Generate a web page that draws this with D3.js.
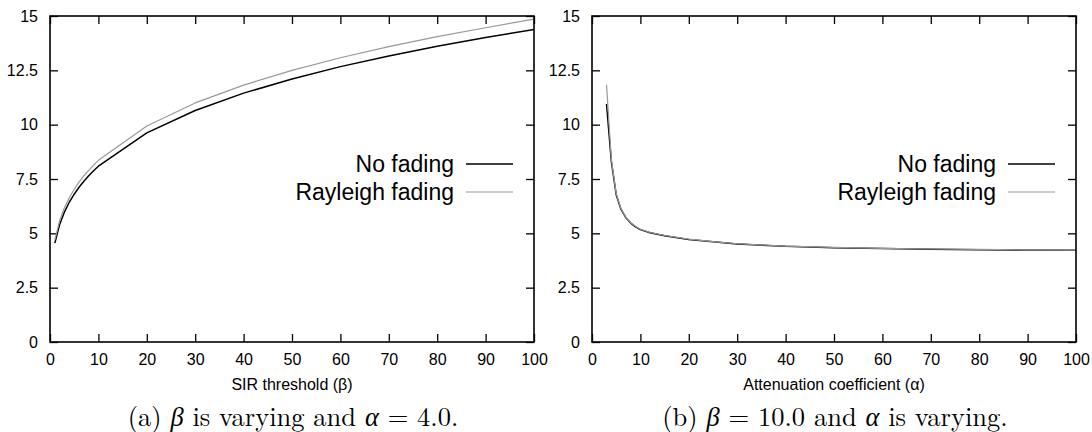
<!DOCTYPE html>
<html>
<head>
<meta charset="utf-8">
<script src="https://cdn.jsdelivr.net/npm/d3@7/dist/d3.min.js"></script>
<style>
  html, body { margin: 0; padding: 0; background: #fff; }
  svg { display: block; }
  .tick text { font-family: "Liberation Sans", Arial, Helvetica, sans-serif; font-size: 16px; fill: #000; }
  .axis-title { font-family: "Liberation Sans", Arial, Helvetica, sans-serif; font-size: 16px; fill: #000; }
  .legend text { font-family: "Liberation Sans", Arial, Helvetica, sans-serif; font-size: 23px; fill: #000; }
  .caption { font-family: "Latin Modern Roman", "CMU Serif", "Liberation Serif", "Times New Roman", serif; font-size: 26.5px; fill: #000; }
</style>
</head>
<body>
<svg id="chart" width="1092" height="432"></svg>
<script>
// Panel (a): SIR threshold beta varies, alpha = 4.0
const betaValues     = [1, 2, 3, 4, 5, 6, 7, 8, 9, 10, 20, 30, 40, 50, 60, 70, 80, 90, 100];
const noFadingBeta   = [4.55, 5.41, 5.99, 6.44, 6.80, 7.12, 7.40, 7.65, 7.88, 8.09, 9.62, 10.65, 11.45, 12.10, 12.67, 13.16, 13.61, 14.01, 14.38];
const rayleighBeta   = [4.70, 5.59, 6.19, 6.65, 7.03, 7.36, 7.65, 7.90, 8.14, 8.36, 9.94, 11.00, 11.82, 12.50, 13.08, 13.59, 14.05, 14.46, 14.86];

// Panel (b): beta = 10.0, attenuation coefficient alpha varies
const alphaValues    = [3, 4, 5, 6, 7, 8, 9, 10, 12, 15, 20, 25, 30, 40, 50, 60, 70, 80, 90, 100];
const noFadingAlpha  = [10.95, 8.30, 6.78, 6.10, 5.72, 5.47, 5.30, 5.17, 5.03, 4.89, 4.72, 4.61, 4.51, 4.40, 4.34, 4.30, 4.27, 4.25, 4.23, 4.22];
const rayleighAlpha  = [11.83, 8.40, 6.83, 6.13, 5.74, 5.49, 5.32, 5.19, 5.04, 4.90, 4.73, 4.62, 4.52, 4.41, 4.35, 4.31, 4.28, 4.26, 4.24, 4.23];

const xTicks = [0, 10, 20, 30, 40, 50, 60, 70, 80, 90, 100];
const yTicks = [0, 2.5, 5, 7.5, 10, 12.5, 15];
const seriesNames = ["No fading", "Rayleigh fading"];
const seriesColors = ["#000000", "#999999"];
const seriesWidths = [1.5, 1.2];

const svg = d3.select("#chart");

function drawPanel(opts) {
  const { left, right, top, bottom, xs, ys, xTitle, caption } = opts;
  const g = svg.append("g");
  const x = d3.scaleLinear().domain([0, 100]).range([left, right]);
  const y = d3.scaleLinear().domain([0, 15]).range([bottom, top]);
  const tick = 8;

  // bottom axis with labels, inward ticks
  g.append("g")
    .attr("transform", `translate(0,${bottom})`)
    .call(d3.axisBottom(x).tickValues(xTicks).tickSizeInner(-tick).tickSizeOuter(0).tickPadding(12).tickFormat(d3.format("d")))
    .call(a => a.select(".domain").remove())
    .call(a => a.selectAll("line").attr("stroke", "#000").attr("stroke-width", 1.3));
  // top mirror ticks
  g.append("g")
    .attr("transform", `translate(0,${top})`)
    .call(d3.axisTop(x).tickValues(xTicks).tickSizeInner(-tick).tickSizeOuter(0).tickFormat(""))
    .call(a => a.select(".domain").remove())
    .call(a => a.selectAll("line").attr("stroke", "#000").attr("stroke-width", 1.3));
  // left axis with labels
  g.append("g")
    .attr("transform", `translate(${left},0)`)
    .call(d3.axisLeft(y).tickValues(yTicks).tickSizeInner(-tick).tickSizeOuter(0).tickPadding(12).tickFormat(d => String(d)))
    .call(a => a.select(".domain").remove())
    .call(a => a.selectAll("line").attr("stroke", "#000").attr("stroke-width", 1.3));
  // right mirror ticks
  g.append("g")
    .attr("transform", `translate(${right},0)`)
    .call(d3.axisRight(y).tickValues(yTicks).tickSizeInner(-tick).tickSizeOuter(0).tickFormat(""))
    .call(a => a.select(".domain").remove())
    .call(a => a.selectAll("line").attr("stroke", "#000").attr("stroke-width", 1.3));

  // data lines
  const line = d3.line().x(d => x(d[0])).y(d => y(d[1]));
  ys.forEach((vals, i) => {
    g.append("path")
      .datum(xs.map((v, j) => [v, vals[j]]))
      .attr("fill", "none")
      .attr("stroke", seriesColors[i])
      .attr("stroke-width", seriesWidths[i])
      .attr("stroke-linejoin", "round")
      .attr("d", line);
  });

  // frame
  g.append("rect")
    .attr("x", left).attr("y", top)
    .attr("width", right - left).attr("height", bottom - top)
    .attr("fill", "none").attr("stroke", "#000").attr("stroke-width", 1.6);

  // legend
  const lg = g.append("g").attr("class", "legend");
  seriesNames.forEach((name, i) => {
    const ly = 164 + i * 28;
    lg.append("text")
      .attr("x", right - 80).attr("y", ly)
      .attr("dy", "0.35em")
      .attr("text-anchor", "end")
      .text(name);
    lg.append("line")
      .attr("x1", right - 68).attr("x2", right - 21)
      .attr("y1", ly).attr("y2", ly)
      .attr("stroke", seriesColors[i]).attr("stroke-width", seriesWidths[i]);
  });

  // x axis title
  g.append("text")
    .attr("class", "axis-title")
    .attr("x", (left + right) / 2).attr("y", 390)
    .attr("text-anchor", "middle")
    .text(xTitle);

  // caption
  const cap = g.append("text")
    .attr("class", "caption")
    .attr("x", (left + right) / 2 + 1).attr("y", 425.5)
    .attr("text-anchor", "middle");
  caption.forEach(part => {
    cap.append("tspan")
      .attr("font-style", part.italic ? "italic" : "normal")
      .text(part.t);
  });
}

drawPanel({
  left: 50, right: 534, top: 16, bottom: 342,
  xs: betaValues, ys: [noFadingBeta, rayleighBeta],
  xTitle: "SIR threshold (β)",
  caption: [{ t: "(a) " }, { t: "β", italic: true }, { t: " is varying and " }, { t: "α", italic: true }, { t: " = 4.0." }]
});

drawPanel({
  left: 592, right: 1076, top: 16, bottom: 342,
  xs: alphaValues, ys: [noFadingAlpha, rayleighAlpha],
  xTitle: "Attenuation coefficient (α)",
  caption: [{ t: "(b) " }, { t: "β", italic: true }, { t: " = 10.0 and " }, { t: "α", italic: true }, { t: " is varying." }]
});
</script>
</body>
</html>
